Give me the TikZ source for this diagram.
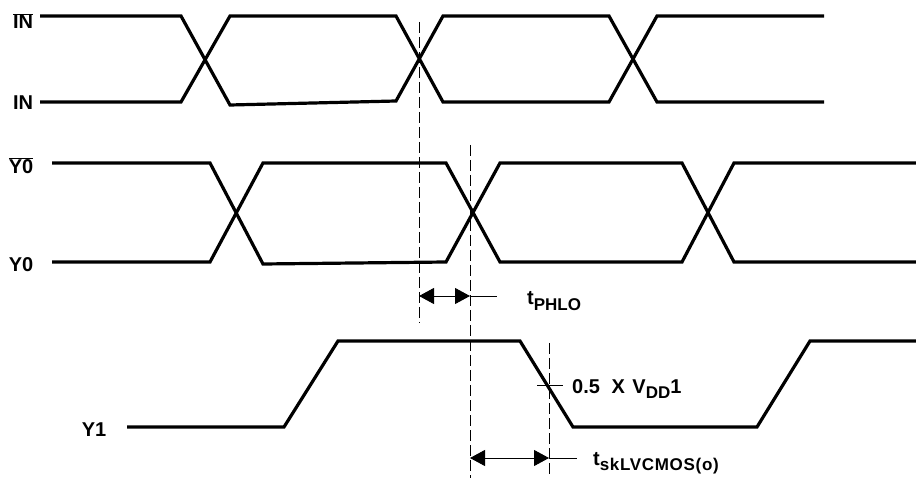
\documentclass[tikz,border=0pt]{standalone}
\usepackage{fontspec}
\setmainfont{Liberation Sans}
\usetikzlibrary{arrows.meta}

\newcommand{\lowtxt}[1]{\raisebox{-0.26em}{\fontsize{17}{17}\selectfont #1}}

\tikzset{
  wave/.style={line width=3.2pt, line join=miter},
  guide/.style={line width=0.9pt, dash pattern=on 11pt off 4pt},
  dim/.style={line width=0.9pt, {Triangle[length=15pt,width=16pt]}-{Triangle[length=15pt,width=16pt]}},
  lbl/.style={font=\fontsize{20}{22}\selectfont\bfseries, inner sep=0pt},
}

\begin{document}
\begin{tikzpicture}[x=1pt,y=-1pt]
    \useasboundingbox (0,0) rectangle (916,478);

    % Entradas
    \draw[wave] (40,16) -- (181,16) -- (230,105) -- (396,101) -- (443,16) -- (609,16) -- (657,102) -- (824,102);
    \draw[wave] (40,102) -- (181,102) -- (230,16) -- (396,16) -- (443,102) -- (609,102) -- (657,16) -- (824,16);
    \node[lbl] (inbar) at (23,21) {$\overline{\mbox{IN}}$};
    \node[lbl] (in) at (23,103) {IN};

    % Salida Y0
    \draw[wave] (52,163) -- (210,163) -- (263,264) -- (446,262) -- (500,163) -- (682,163) -- (734,262) -- (916,262);
    \draw[wave] (52,262) -- (210,262) -- (263,163) -- (446,163) -- (500,262) -- (682,262) -- (734,163) -- (916,163);
    \node[lbl] (ybar) at (21,166) {$\overline{\mbox{Y0}}$};
    \node[lbl] (y0) at (21,265) {Y0};

    % Salida Y1
    \draw[wave] (127,427) -- (284,427) -- (338,341) -- (520,341) -- (573,427) -- (757,427) -- (810,341) -- (916,341);
    \node[lbl] (y1) at (94,430) {Y1};

    % Referencias
    \draw[guide] (419,22) -- (419,323);
    \draw[guide] (470,145) -- (470,478);
    \draw[guide] (549,343) -- (549,478);

    % Tiempos
    \coordinate (pa) at (419,296);
    \coordinate (pb) at (470,296);
    \coordinate (pc) at (497,296);
    \draw[dim] (pa) -- (pb);
    \draw[line width=0.9pt] (pb) -- (pc);
    \node[lbl, anchor=west] (tphlo) at (527,301) {t\lowtxt{PHLO}};

    \coordinate (sa) at (470,458);
    \coordinate (sb) at (549,458);
    \coordinate (sc) at (577,458);
    \draw[dim] (sa) -- (sb);
    \draw[line width=0.9pt] (sb) -- (sc);
    \node[lbl, anchor=west] (tsk) at (593,463) {t\lowtxt{\addfontfeatures{LetterSpace=4}skLVCMOS(o)}};

    % Nivel
    \draw[line width=0.9pt] (537,385) -- (563,385);
    \node[lbl, anchor=west] (vdd) at (572,389) {0.5\hspace{6pt} X\hspace{2pt} V\lowtxt{DD}1};
\end{tikzpicture}
\end{document}
